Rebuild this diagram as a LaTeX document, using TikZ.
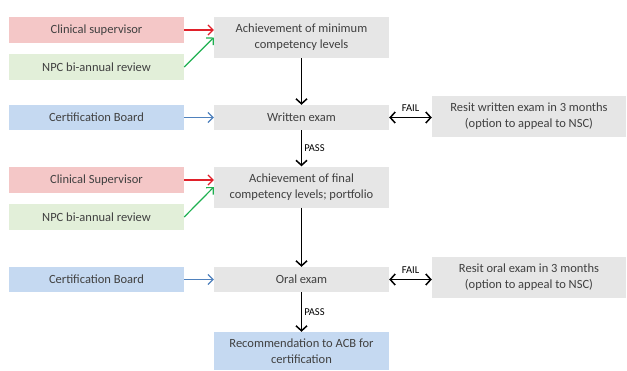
\documentclass[tikz,border=0pt]{standalone}
\usepackage{fontspec}
\setmainfont{Carlito}
\usetikzlibrary{arrows.meta}
\usetikzlibrary{calc}

\definecolor{redbox}{HTML}{F4C7C7}
\definecolor{greenbox}{HTML}{E2EFD9}
\definecolor{bluebox}{HTML}{C5D9F1}
\definecolor{graybox}{HTML}{E6E6E6}
\definecolor{redline}{HTML}{E0202A}
\definecolor{greenline}{HTML}{1FB050}
\definecolor{blueline}{HTML}{4F81BD}
\definecolor{textgray}{HTML}{404040}

\begin{document}
\begin{tikzpicture}[x=1pt,y=-1pt,
  box/.style={inner sep=0pt,minimum width=175pt,align=center,text=textgray,
    font=\fontsize{12.5pt}{16pt}\selectfont},
  sidebox/.style={box,minimum height=26pt},
  flowbox/.style={box,fill=graybox},
  flowarrow/.style={-{Straight Barb[length=5pt,width=11pt]},line width=1.5pt,black},
  inarrow/.style={-{Straight Barb[length=5pt,width=10pt]},line width=1.2pt},
  tag/.style={font=\fontsize{10.5pt}{12pt}\selectfont,text=black,inner sep=2pt}]

\useasboundingbox (0,0) rectangle (627,370);

% first block
\node (cs1) at (96.5,30) [sidebox,fill=redbox] {Clinical supervisor};
\node (npc1) at (96.5,67) [sidebox,fill=greenbox] {NPC bi-annual review};
\node (ach1) at (301.5,37.5) [flowbox,minimum height=41pt]
{Achievement of minimum\\competency levels};

\node (cb1) at (96.5,117.5) [sidebox,minimum height=25pt,fill=bluebox] {Certification Board};
\node (wr) at (301.5,117.5) [flowbox,minimum height=25pt] {Written exam};
\node (rw) at (529,116) [flowbox,minimum width=194pt,minimum height=41pt]
{Resit written exam in 3 months\\(option to appeal to NSC)};

% second block
\node (cs2) at (96.5,180) [sidebox,fill=redbox] {Clinical Supervisor};
\node (npc2) at (96.5,217) [sidebox,fill=greenbox] {NPC bi-annual review};
\node (ach2) at (301.5,187) [flowbox,minimum height=41pt]
{Achievement of final\\competency levels; portfolio};

\node (cb2) at (96.5,279.5) [sidebox,minimum height=25pt,fill=bluebox] {Certification Board};
\node (oral) at (301.5,279.5) [flowbox,minimum height=25pt] {Oral exam};
\node (ro) at (529,277) [flowbox,minimum width=194pt,minimum height=41pt]
{Resit oral exam in 3 months\\(option to appeal to NSC)};

\node (rec) at (301.5,351) [box,fill=bluebox,minimum height=38pt]
{Recommendation to ACB for\\certification};

% inputs
\draw[inarrow,redline] (cs1.east) -- (cs1.east -| ach1.west);
\draw[inarrow,greenline] (npc1.east) -- (ach1.west);
\draw[inarrow,blueline] (cb1.east) -- (wr.west);
\draw[inarrow,redline] (cs2.east) -- (cs2.east -| ach2.west);
\draw[inarrow,greenline] (npc2.east) -- (ach2.west);
\draw[inarrow,blueline] (cb2.east) -- (oral.west);

% main flow
\draw[flowarrow] (ach1.south) -- (wr.north);
\draw[flowarrow] (wr.south) -- node[tag,right] {PASS} (ach2.north);
\draw[flowarrow] (ach2.south) -- (oral.north);
\draw[flowarrow] (oral.south) -- node[tag,right] {PASS} (rec.north);

% resits
\draw[flowarrow,{Straight Barb[length=5pt,width=11pt]}-{Straight Barb[length=5pt,width=11pt]}]
  (wr.east) -- node[tag,above=3pt] {FAIL} (wr.east -| rw.west);
\draw[flowarrow,{Straight Barb[length=5pt,width=11pt]}-{Straight Barb[length=5pt,width=11pt]}]
  (oral.east) -- node[tag,above=3pt] {FAIL} (oral.east -| ro.west);

\end{tikzpicture}
\end{document}
